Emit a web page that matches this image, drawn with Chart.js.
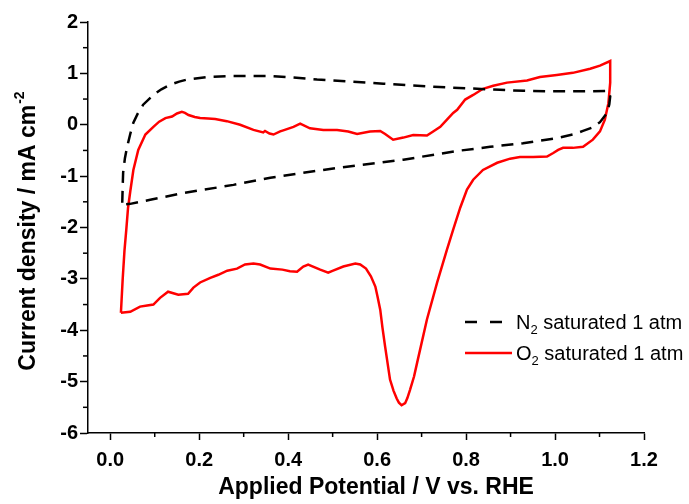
<!DOCTYPE html>
<html>
<head>
<meta charset="utf-8">
<script src="https://cdn.jsdelivr.net/npm/chart.js@4.4.1/dist/chart.umd.min.js"></script>
<style>
  html, body { margin: 0; padding: 0; background: #fff; }
  #wrap { width: 689px; height: 504px; }
</style>
</head>
<body>
<div id="wrap"><canvas id="cv" width="689" height="504"></canvas></div>
<script>
// Cyclic voltammograms: N2 vs O2 saturated electrolyte (potential in V vs RHE, current in mA cm-2)
const n2Potential = [0.027, 0.028, 0.029, 0.033, 0.038, 0.045, 0.052, 0.062, 0.074, 0.097, 0.115, 0.135, 0.155, 0.173, 0.218, 0.277, 0.352, 0.41, 0.465, 0.54, 0.614, 0.67, 0.727, 0.8, 0.876, 0.93, 0.989, 1.06, 1.12, 1.124, 1.122, 1.117, 1.101, 1.085, 1.063, 1.04, 1.004, 0.928, 0.854, 0.78, 0.659, 0.51, 0.36, 0.277, 0.164, 0.09, 0.045, 0.027];
const n2Current = [-1.52, -1.2, -0.93, -0.65, -0.43, -0.18, 0.04, 0.22, 0.39, 0.58, 0.69, 0.78, 0.84, 0.88, 0.93, 0.95, 0.95, 0.92, 0.88, 0.84, 0.80, 0.77, 0.74, 0.71, 0.68, 0.66, 0.65, 0.65, 0.66, 0.55, 0.4, 0.23, 0.05, -0.05, -0.12, -0.19, -0.26, -0.36, -0.43, -0.51, -0.68, -0.84, -1.03, -1.17, -1.33, -1.46, -1.54, -1.55];

const o2Potential = [0.024, 0.028, 0.032, 0.036, 0.040, 0.045, 0.052, 0.063, 0.079, 0.097, 0.11, 0.124, 0.139, 0.15, 0.161, 0.168, 0.176, 0.19, 0.202, 0.22, 0.236, 0.262, 0.292, 0.322, 0.344, 0.348, 0.358, 0.367, 0.382, 0.389, 0.412, 0.427, 0.449, 0.479, 0.51, 0.535, 0.555, 0.584, 0.607, 0.618, 0.636, 0.659, 0.681, 0.712, 0.726, 0.742, 0.757, 0.771, 0.78, 0.798, 0.816, 0.838, 0.861, 0.892, 0.937, 0.966, 1.004, 1.04, 1.079, 1.101, 1.124,
  1.124, 1.12, 1.112, 1.101, 1.085, 1.063, 1.04, 1.018, 1.007, 0.996, 0.982, 0.951, 0.921, 0.899, 0.87, 0.838, 0.816, 0.802, 0.787, 0.771, 0.757, 0.735, 0.712, 0.69, 0.683, 0.674, 0.668, 0.663, 0.655, 0.649, 0.644, 0.637, 0.629, 0.618, 0.612, 0.607, 0.601, 0.596, 0.586, 0.575, 0.562, 0.551, 0.524, 0.501, 0.49, 0.472, 0.445, 0.434, 0.42, 0.404, 0.387, 0.36, 0.337, 0.322, 0.303, 0.285, 0.263, 0.243, 0.225, 0.202, 0.187, 0.175, 0.153, 0.13, 0.112, 0.097, 0.083, 0.067, 0.045, 0.024];
const o2Current = [-3.66, -3.0, -2.45, -2.05, -1.62, -1.3, -0.88, -0.49, -0.19, -0.04, 0.06, 0.13, 0.16, 0.22, 0.25, 0.23, 0.19, 0.15, 0.13, 0.12, 0.11, 0.07, 0.0, -0.1, -0.15, -0.12, -0.17, -0.19, -0.13, -0.11, -0.04, 0.02, -0.07, -0.1, -0.1, -0.13, -0.18, -0.13, -0.12, -0.18, -0.29, -0.25, -0.2, -0.21, -0.13, -0.04, 0.1, 0.23, 0.29, 0.49, 0.58, 0.70, 0.76, 0.82, 0.86, 0.93, 0.97, 1.01, 1.09, 1.15, 1.24,
  0.82, 0.42, 0.1, -0.13, -0.29, -0.43, -0.45, -0.45, -0.49, -0.55, -0.62, -0.63, -0.63, -0.66, -0.74, -0.88, -1.07, -1.26, -1.61, -2.04, -2.43, -3.07, -3.79, -4.63, -4.9, -5.16, -5.32, -5.42, -5.46, -5.41, -5.33, -5.18, -4.96, -4.32, -3.95, -3.6, -3.35, -3.15, -2.95, -2.8, -2.72, -2.7, -2.76, -2.84, -2.88, -2.82, -2.72, -2.76, -2.86, -2.85, -2.82, -2.8, -2.72, -2.7, -2.72, -2.8, -2.84, -2.92, -2.98, -3.07, -3.17, -3.29, -3.31, -3.25, -3.37, -3.5, -3.52, -3.54, -3.64, -3.66];

const xTickValues = [0, 0.2, 0.4, 0.6, 0.8, 1.0, 1.2];
const xMinorTicks = [0.1, 0.3, 0.5, 0.7, 0.9, 1.1];
const yTickValues = [-6, -5, -4, -3, -2, -1, 0, 1, 2];
const yMinorTicks = [-5.5, -4.5, -3.5, -2.5, -1.5, -0.5, 0.5, 1.5];

const seriesLabels = ['N', 'O'];
const legendText = ' saturated 1 atm';
const xTitle = 'Applied Potential / V vs. RHE';
const yTitle = 'Current density / mA cm';
const yTitleSup = '-2';

const FONT = '"Liberation Sans", Arial, Helvetica, sans-serif';

function toPoints(xs, ys) {
  return xs.map((x, i) => ({ x: x, y: ys[i] }));
}

// draws minor ticks, axis titles (with sub/superscripts) and the legend
const decor = {
  id: 'decor',
  afterDraw(chart) {
    const ctx = chart.ctx;
    const x = chart.scales.x;
    const y = chart.scales.y;
    const area = chart.chartArea;
    ctx.save();
    ctx.strokeStyle = '#000';
    ctx.lineWidth = 1.5;
    xMinorTicks.forEach(v => {
      const px = x.getPixelForValue(v);
      ctx.beginPath();
      ctx.moveTo(px, area.bottom);
      ctx.lineTo(px, area.bottom + 4);
      ctx.stroke();
    });
    yMinorTicks.forEach(v => {
      const py = y.getPixelForValue(v);
      ctx.beginPath();
      ctx.moveTo(area.left, py);
      ctx.lineTo(area.left - 5, py);
      ctx.stroke();
    });

    // x title
    ctx.fillStyle = '#000';
    ctx.font = 'bold 23px ' + FONT;
    ctx.textAlign = 'center';
    ctx.textBaseline = 'alphabetic';
    ctx.fillText(xTitle, (area.left + area.right) / 2 + 10, 494);

    // y title, rotated, with superscript
    ctx.save();
    ctx.translate(35, (area.top + area.bottom) / 2 + 4);
    ctx.rotate(-Math.PI / 2);
    ctx.textAlign = 'left';
    ctx.font = 'bold 23px ' + FONT;
    const mainW = ctx.measureText(yTitle).width;
    ctx.font = 'bold 14px ' + FONT;
    const supW = ctx.measureText(yTitleSup).width;
    const start = -(mainW + supW) / 2;
    ctx.font = 'bold 23px ' + FONT;
    ctx.fillText(yTitle, start, 0);
    ctx.font = 'bold 14px ' + FONT;
    ctx.fillText(yTitleSup, start + mainW + 1, -11);
    ctx.restore();

    // legend
    const rows = [
      { yc: 322, color: '#000', dash: [12, 13], lw: 2.5, x2: 502 },
      { yc: 353, color: '#ff0000', dash: [], lw: 2.5, x2: 512 }
    ];
    rows.forEach((r, i) => {
      ctx.strokeStyle = r.color;
      ctx.lineWidth = r.lw;
      ctx.setLineDash(r.dash);
      ctx.beginPath();
      ctx.moveTo(465, r.yc);
      ctx.lineTo(r.x2, r.yc);
      ctx.stroke();
      ctx.setLineDash([]);
      ctx.fillStyle = '#000';
      ctx.textAlign = 'left';
      ctx.font = '20px ' + FONT;
      let tx = 516;
      ctx.fillText(seriesLabels[i], tx, r.yc + 7);
      tx += ctx.measureText(seriesLabels[i]).width;
      ctx.font = '13px ' + FONT;
      ctx.fillText('2', tx, r.yc + 12);
      tx += ctx.measureText('2').width;
      ctx.font = '20px ' + FONT;
      ctx.fillText(legendText, tx, r.yc + 7);
    });
    ctx.restore();
  }
};

const ctx = document.getElementById('cv').getContext('2d');
new Chart(ctx, {
  type: 'scatter',
  data: {
    datasets: [
      {
        label: 'N2 saturated 1 atm',
        data: toPoints(n2Potential, n2Current),
        showLine: true,
        borderColor: '#000',
        borderWidth: 2.5,
        borderDash: [12, 8],
        pointRadius: 0,
        fill: false,
        tension: 0
      },
      {
        label: 'O2 saturated 1 atm',
        data: toPoints(o2Potential, o2Current),
        showLine: true,
        borderColor: '#ff0000',
        borderWidth: 2.5,
        pointRadius: 0,
        fill: false,
        tension: 0
      }
    ]
  },
  options: {
    responsive: false,
    animation: false,
    layout: { padding: { top: 22, right: 45, left: 0, bottom: 0 } },
    plugins: { legend: { display: false }, tooltip: { enabled: false } },
    scales: {
      x: {
        type: 'linear',
        min: -0.05,
        max: 1.2,
        afterBuildTicks: s => { s.ticks = xTickValues.map(v => ({ value: v })); },
        afterFit: s => { s.height = 71; },
        grid: { drawOnChartArea: false, tickLength: 7, tickWidth: 1.5, tickColor: '#000' },
        border: { color: '#000', width: 1.5 },
        ticks: {
          color: '#000',
          padding: 8,
          autoSkip: false,
          maxRotation: 0,
          font: { family: FONT, size: 20, weight: 'bold' },
          callback: v => v.toFixed(1)
        }
      },
      y: {
        type: 'linear',
        min: -6,
        max: 2,
        afterBuildTicks: s => { s.ticks = yTickValues.map(v => ({ value: v })); },
        afterFit: s => { s.width = 88; },
        grid: { drawOnChartArea: false, tickLength: 8, tickWidth: 1.5, tickColor: '#000' },
        border: { color: '#000', width: 1.5 },
        ticks: {
          color: '#000',
          padding: 2,
          autoSkip: false,
          font: { family: FONT, size: 20, weight: 'bold' },
          callback: v => String(v)
        }
      }
    }
  },
  plugins: [decor]
});
</script>
</body>
</html>
